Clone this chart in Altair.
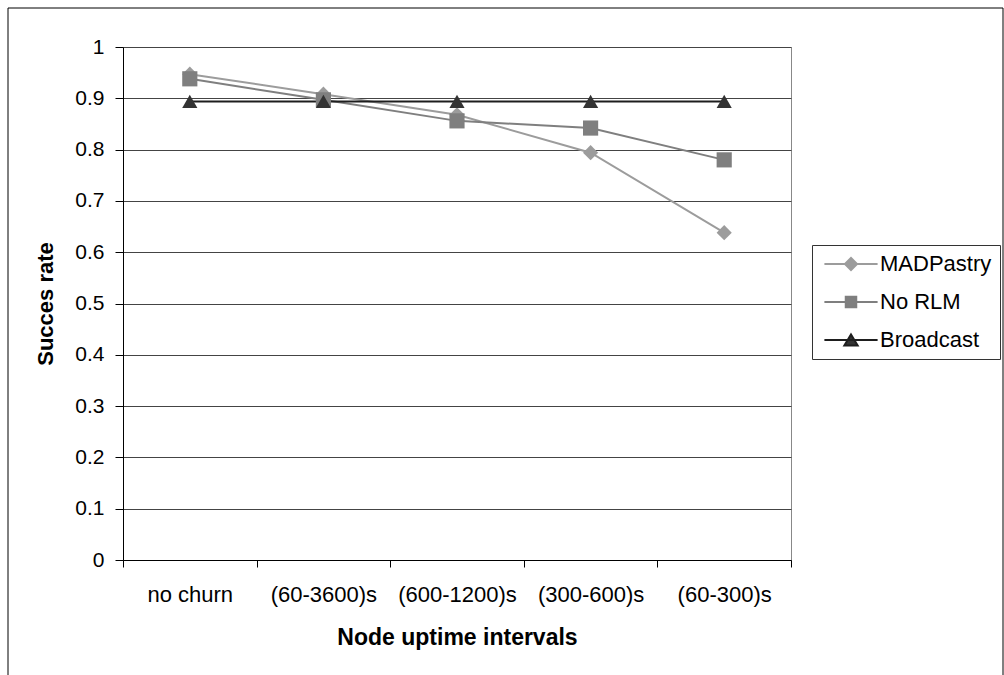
import altair as alt
import pandas as pd

# ---- data ----
categories = ["no churn", "(60-3600)s", "(600-1200)s", "(300-600)s", "(60-300)s"]
series_names = ["MADPastry", "No RLM", "Broadcast"]
madpastry = [0.947, 0.908, 0.868, 0.794, 0.638]
no_rlm = [0.938, 0.897, 0.856, 0.842, 0.780]
broadcast = [0.894, 0.894, 0.894, 0.894, 0.894]
y_ticks = [0, 0.1, 0.2, 0.3, 0.4, 0.5, 0.6, 0.7, 0.8, 0.9, 1]

# ---- styles ----
line_colors = ["#9c9c9c", "#7f7f7f", "#1e1e1e"]
marker_colors = ["#9c9c9c", "#7f7f7f", "#333333"]
marker_shapes = ["diamond", "square", "triangle-up"]
seg = "M-3.8,0H3.8 "
legend_paths = [
    seg + "M-0.86,0L0,-0.86L0.86,0L0,0.86Z",
    seg + "M-0.75,-0.75H0.75V0.75H-0.75Z",
    seg + "M0,-0.8L0.95,0.8H-0.95Z",
]
FONT = "Liberation Sans"


def pick_expr(values):
    expr = "'" + values[-1] + "'"
    for name, val in reversed(list(zip(series_names[:-1], values[:-1]))):
        expr = "datum.value == '" + name + "' ? '" + val + "' : " + expr
    return expr


rows = []
for name, vals in zip(series_names, [madpastry, no_rlm, broadcast]):
    for c, v in zip(categories, vals):
        rows.append({"category": c, "series": name, "value": v})
df = pd.DataFrame(rows)

W, H = 668, 513

x_enc = alt.X(
    "category:N",
    sort=categories,
    bandPosition=0.5,
    scale=alt.Scale(type="band", domain=categories, paddingInner=0, paddingOuter=0),
    axis=alt.Axis(
        title="Node uptime intervals",
        labelAngle=0,
        labelFontSize=22,
        tickBand="extent",
        bandPosition=0.5,
        tickSize=7,
        tickColor="black",
        domainColor="black",
        labelPadding=17,
        grid=False,
        titleX=W / 2,
        titleY=77,
        titleBaseline="middle",
        titleAlign="center",
        titleFontSize=23,
    ),
)
y_enc = alt.Y(
    "value:Q",
    scale=alt.Scale(domain=[0, 1], nice=False, zero=True),
    axis=alt.Axis(
        title="Succes rate",
        values=y_ticks,
        format="~g",
        labelFontSize=21,
        tickSize=8,
        tickColor="black",
        domainColor="black",
        labelPadding=11,
        grid=True,
        gridColor="#444444",
        gridWidth=1,
        titleX=-78,
        titleY=H / 2,
        titleBaseline="middle",
        titleAlign="center",
        titleFontSize=22,
    ),
)

lines = alt.Chart(df).mark_line(strokeWidth=2).encode(
    x=x_enc,
    y=y_enc,
    color=alt.Color("series:N", scale=alt.Scale(domain=series_names, range=line_colors), legend=None),
    detail="series:N",
)

points = alt.Chart(df).mark_point(filled=True, opacity=1, size=230).encode(
    x=x_enc,
    y=y_enc,
    fill=alt.Fill("series:N", scale=alt.Scale(domain=series_names, range=marker_colors), legend=None),
    shape=alt.Shape("series:N", scale=alt.Scale(domain=series_names, range=marker_shapes), legend=None),
)

leg = alt.Legend(
    orient="none",
    legendX=689,
    legendY=198,
    title=None,
    symbolSize=196,
    symbolStrokeWidth=2,
    symbolOffset=20,
    labelOffset=18,
    labelFont=FONT,
    labelFontSize=22,
    labelColor="black",
    rowPadding=16,
    padding=8,
    strokeColor="#333333",
    fillColor="white",
    symbolOpacity=1,
    symbolFillColor=alt.ExprRef(expr=pick_expr(marker_colors)),
    symbolStrokeColor=alt.ExprRef(expr=pick_expr(line_colors)),
)

legend_layer = alt.Chart(df).transform_filter("false").mark_point(filled=True).encode(
    x=x_enc,
    y=y_enc,
    shape=alt.Shape("series:N", sort=series_names,
                    scale=alt.Scale(domain=series_names, range=legend_paths), legend=leg),
    fill=alt.Fill("series:N", scale=alt.Scale(domain=series_names, range=marker_colors), legend=None),
    stroke=alt.Stroke("series:N", scale=alt.Scale(domain=series_names, range=line_colors), legend=None),
)

border = alt.Chart(pd.DataFrame({"k": [0]})).mark_rect(
    fill="transparent", stroke="black", strokeWidth=1, clip=False
).encode(
    x=alt.value(-115), x2=alt.value(880), y=alt.value(-39), y2=alt.value(640)
)

chart = (
    alt.layer(border, lines, points, legend_layer)
    .resolve_scale(shape="independent")
    .properties(
        width=W,
        height=H,
        autosize=alt.AutoSizeParams(type="none"),
        padding={"left": 123, "top": 47, "right": 1004 - 123 - W, "bottom": 675 - 47 - H},
        background="white",
    )
    .configure_view(stroke="#888888", strokeWidth=1)
    .configure_axis(
        labelFont=FONT,
        labelColor="black",
        titleFont=FONT,
        titleFontWeight="bold",
        titleColor="black",
    )
)

chart.save("out.html", embed_options={"renderer": "svg", "actions": False})
